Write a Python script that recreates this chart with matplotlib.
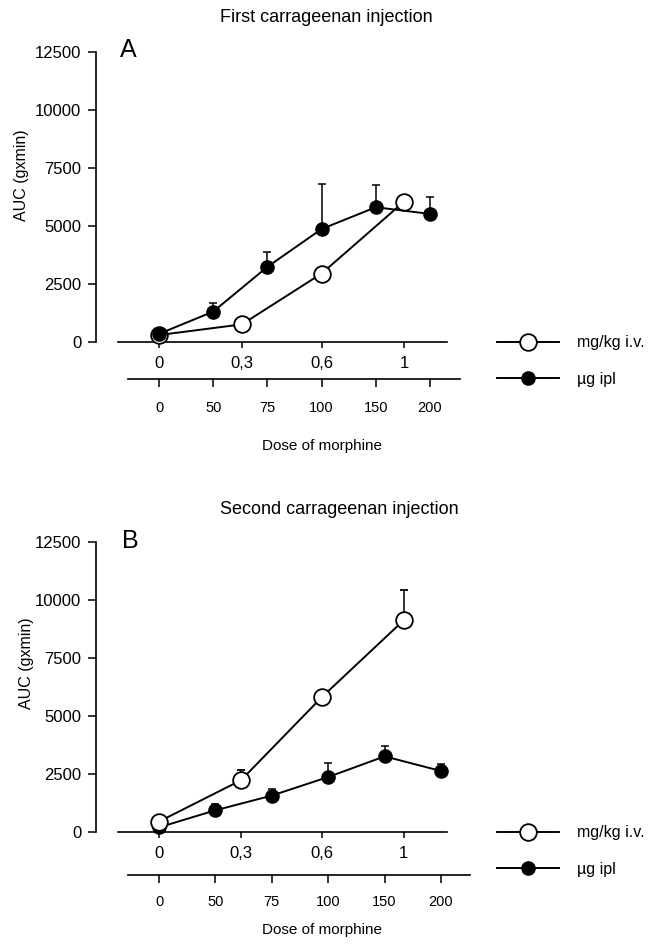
import matplotlib
matplotlib.use("Agg")
import matplotlib.pyplot as plt
import numpy as np

plt.rcParams['font.family'] = ['Liberation Sans', 'DejaVu Sans']

iv_labels = ["0", "0,3", "0,6", "1"]
ipl_labels = ["0", "50", "75", "100", "150", "200"]
y_ticks = [0, 2500, 5000, 7500, 10000, 12500]

# panel A - first carrageenan injection
a_iv = [300, 760, 2950, 6050]
a_iv_err = [0, 0, 0, 0]
a_ipl = [350, 1310, 3240, 4870, 5810, 5520]
a_ipl_err = [0, 360, 660, 1930, 970, 720]

# panel B - second carrageenan injection
b_iv = [450, 2230, 5820, 9130]
b_iv_err = [0, 460, 0, 1290]
b_ipl = [200, 935, 1570, 2370, 3260, 2630]
b_ipl_err = [0, 290, 270, 620, 430, 290]

W, H = 652, 952
fig = plt.figure(figsize=(W / 100, H / 100), dpi=100)


def panel(top_px, unit_px, iv_pos, sec_off, title, title_xy, letter, letter_xy,
          ylab_xy, xlab_y, iv, iv_err, ipl, ipl_err, ipl_on_top, sec_pad, sec_right):
    left_px, right_px, zero_px, h_px = 96, 470, 159, 290
    ax = fig.add_axes([left_px / W, 1 - (top_px + h_px) / H,
                       (right_px - left_px) / W, h_px / H])
    ax.set_xlim((left_px - zero_px) / unit_px, (right_px - zero_px) / unit_px)
    ax.set_ylim(0, 12500)
    ipl_pos = np.arange(len(ipl))

    eb_iv = ax.errorbar(iv_pos, iv, yerr=[np.zeros(len(iv)), iv_err], fmt='-o',
                        color='black', mfc='white', mec='black', ms=12, mew=1.3,
                        lw=1.4, elinewidth=1.1, capsize=2.8, capthick=1.1,
                        clip_on=False, zorder=3 if ipl_on_top else 4)
    eb_ipl = ax.errorbar(ipl_pos, ipl, yerr=[np.zeros(len(ipl)), ipl_err], fmt='-o',
                         color='black', ms=9.5, lw=1.4, elinewidth=1.1, capsize=2.8,
                         capthick=1.1, clip_on=False, zorder=4 if ipl_on_top else 3)

    for s in ['top', 'right']:
        ax.spines[s].set_visible(False)
    ax.spines['left'].set_linewidth(1.2)
    ax.spines['bottom'].set_linewidth(1.2)
    ax.spines['bottom'].set_bounds((118 - zero_px) / unit_px, (447 - zero_px) / unit_px)
    ax.set_yticks(y_ticks)
    ax.set_yticklabels([str(t) for t in y_ticks])
    ax.tick_params(axis='y', length=5.5, width=1.1, pad=5, labelsize=12)
    ax.set_xticks(iv_pos)
    ax.set_xticklabels(iv_labels)
    ax.tick_params(axis='x', length=4.5, width=1.1, pad=5.5, labelsize=12)

    ax2 = ax.twiny()
    ax2.set_xlim(ax.get_xlim())
    for s in ['top', 'right', 'left']:
        ax2.spines[s].set_visible(False)
    ax2.xaxis.set_ticks_position('bottom')
    ax2.spines['bottom'].set_position(('outward', sec_off))
    ax2.spines['bottom'].set_linewidth(1.2)
    ax2.spines['bottom'].set_bounds((128 - zero_px) / unit_px, (sec_right - zero_px) / unit_px)
    ax2.set_xticks(ipl_pos)
    ax2.set_xticklabels(ipl_labels)
    ax2.tick_params(axis='x', length=5.5, width=1.1, pad=sec_pad, labelsize=10.5)

    fig.text(title_xy[0] / W, 1 - title_xy[1] / H, title, ha='center', va='center', fontsize=13)
    fig.text(letter_xy[0] / W, 1 - letter_xy[1] / H, letter, ha='center', va='center', fontsize=18)
    fig.text(ylab_xy[0] / W, 1 - ylab_xy[1] / H, "AUC (gxmin)", rotation=90,
             ha='center', va='center', fontsize=11.5)
    fig.text(322 / W, 1 - xlab_y / H, "Dose of morphine", ha='center', va='center', fontsize=11)

    fig.legend([eb_iv.lines[0], eb_ipl.lines[0]], ["mg/kg i.v.", "\u00b5g ipl"],
               loc='center left', bbox_to_anchor=(497 / W, 1 - (top_px + h_px + 19) / H),
               frameon=False, fontsize=11.5, handlelength=3.9, handletextpad=1.1,
               labelspacing=1.35, borderpad=0, borderaxespad=0, numpoints=1)
    return ax


panel(52, 54.2, [0, 1.53, 3.0, 4.52], 26.5, "First carrageenan injection", (326, 18),
      "A", (128, 50), (22, 175), 446, a_iv, a_iv_err, a_ipl, a_ipl_err, True, 10.5, 460)
panel(542, 56.4, [0, 1.454, 2.89, 4.34], 31, "Second carrageenan injection", (339, 510),
      "B", (130, 541), (27, 663), 930, b_iv, b_iv_err, b_ipl, b_ipl_err, False, 8.5, 470)

fig.savefig("out.png", dpi=100)
